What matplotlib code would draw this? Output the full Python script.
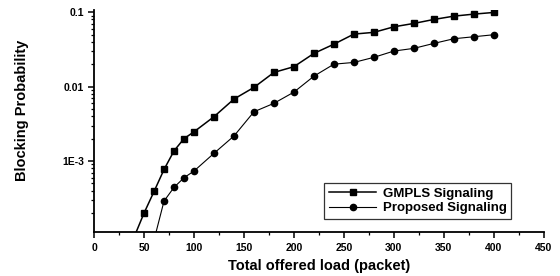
import matplotlib
matplotlib.use("Agg")
import matplotlib.pyplot as plt
from matplotlib.ticker import FixedLocator, FixedFormatter, LogLocator, NullFormatter, MultipleLocator

plt.rcParams['font.family'] = ['Liberation Sans', 'DejaVu Sans']
plt.rcParams['font.weight'] = 'bold'

load_gmpls = [40, 50, 60, 70, 80, 90, 100, 120, 140, 160, 180, 200, 220, 240,
              260, 280, 300, 320, 340, 360, 380, 400]
prob_gmpls = [9.5e-5, 2.0e-4, 3.9e-4, 7.7e-4, 1.37e-3, 2.0e-3, 2.47e-3, 3.94e-3,
              6.8e-3, 9.75e-3, 1.55e-2, 1.85e-2, 2.79e-2, 3.71e-2, 5.07e-2,
              5.35e-2, 6.35e-2, 7.05e-2, 7.97e-2, 8.83e-2, 9.4e-2, 9.9e-2]

load_prop = [60, 70, 80, 90, 100, 120, 140, 160, 180, 200, 220, 240, 260, 280,
             300, 320, 340, 360, 380, 400]
prob_prop = [8.7e-5, 2.9e-4, 4.43e-4, 5.97e-4, 7.34e-4, 1.27e-3, 2.17e-3, 4.59e-3,
             5.96e-3, 8.43e-3, 1.38e-2, 2.0e-2, 2.11e-2, 2.47e-2, 3.0e-2, 3.26e-2,
             3.8e-2, 4.39e-2, 4.67e-2, 4.97e-2]

series_labels = ["GMPLS Signaling", "Proposed Signaling"]
ytick_values = [1e-3, 1e-2, 1e-1]
ytick_labels = ["1E-3", "0.01", "0.1"]
xtick_values = [0, 50, 100, 150, 200, 250, 300, 350, 400, 450]

fig = plt.figure(figsize=(5.6, 2.76), dpi=100)
ax = fig.add_axes([0.168, 0.159, 0.803, 0.805])

ax.plot(load_gmpls, prob_gmpls, color='black', lw=1.1, marker='s', ms=5,
        label=series_labels[0])
ax.plot(load_prop, prob_prop, color='black', lw=0.8, marker='o', ms=4.5,
        label=series_labels[1])

ax.set_yscale('log')
ax.set_xlim(0, 450)
ax.set_ylim(1.11e-4, 0.107)

ax.yaxis.set_major_locator(FixedLocator(ytick_values))
ax.yaxis.set_major_formatter(FixedFormatter(ytick_labels))
ax.yaxis.set_minor_locator(LogLocator(base=10, subs=range(2, 10)))
ax.yaxis.set_minor_formatter(NullFormatter())
ax.xaxis.set_major_locator(FixedLocator(xtick_values))
ax.xaxis.set_minor_locator(MultipleLocator(25))

for s in ['top', 'right']:
    ax.spines[s].set_visible(False)
for s in ['left', 'bottom']:
    ax.spines[s].set_linewidth(1.3)

ax.tick_params(axis='both', which='major', direction='out', length=4, width=1.1,
               labelsize=7.5, pad=3)
ax.tick_params(axis='x', which='major', pad=4)
ax.tick_params(axis='both', which='minor', direction='out', length=2.5, width=0.9)
for lbl in ax.get_xticklabels() + ax.get_yticklabels():
    lbl.set_fontweight('bold')

ax.set_xlabel("Total offered load (packet)", fontsize=10.5, fontweight='bold', labelpad=4)
ax.set_ylabel("Blocking Probability", fontsize=10.5, fontweight='bold')
ax.yaxis.set_label_coords(-0.145, 0.55)

leg = ax.legend(loc='center', bbox_to_anchor=(0.72, 0.14), fontsize=9.5,
                frameon=True, fancybox=False, handlelength=3.6, handletextpad=0.5,
                borderpad=0.35, labelspacing=0.15, borderaxespad=0)
leg.get_frame().set_edgecolor('black')
leg.get_frame().set_linewidth(0.9)
for t in leg.get_texts():
    t.set_fontweight('bold')

fig.savefig("out.png", dpi=100)
